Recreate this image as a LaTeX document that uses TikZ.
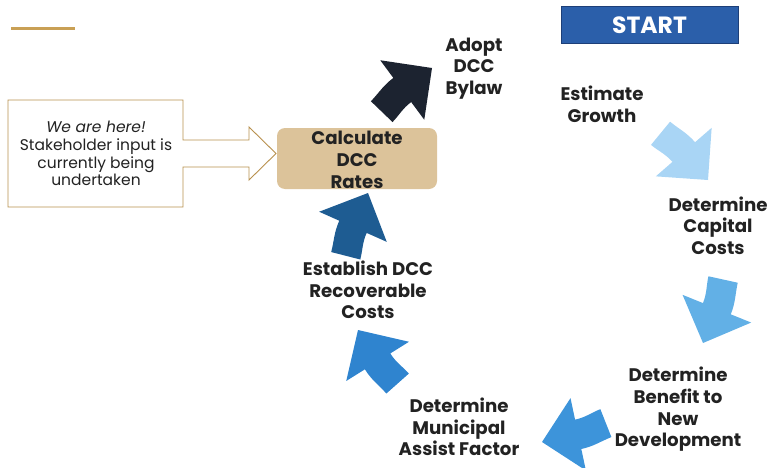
\documentclass[tikz,border=0pt]{standalone}
\usepackage{fontspec}
\setmainfont{Poppins}
\definecolor{txt}{HTML}{222222}
\definecolor{gold}{HTML}{C9A055}
\definecolor{goldline}{HTML}{B8914E}
\definecolor{tan}{HTML}{DCC39A}
\definecolor{startblue}{HTML}{2B5FAA}
\definecolor{startedge}{HTML}{1D3F78}
\definecolor{ablack}{HTML}{1C2330}
\definecolor{alight}{HTML}{A9D5F5}
\definecolor{amid}{HTML}{62B0E6}
\definecolor{ablue}{HTML}{3D94DA}
\definecolor{ablueb}{HTML}{2F84CF}
\definecolor{adark}{HTML}{1E5C92}
\newcommand{\cycarrow}[4]{\fill[#4, shift={(#1,#2)}, rotate=#3] (0,0) -- (-37,37) -- (-37,15) to[out=180,in=10] (-68.9,9.6) -- (-63.9,-20) to[out=10,in=180] (-37,-15) -- (-37,-37) -- cycle;}
\begin{document}
\begin{tikzpicture}[x=1pt,y=1pt,
  lbl/.style={font=\bfseries\fontsize{18.2}{21.7}\selectfont, text=txt, align=center, inner sep=0pt}]
\useasboundingbox (0,0) rectangle (770,467);
% gold rule
\draw[gold, line width=3pt] (11,438) -- (75,438);
% START
\node[fill=startblue, draw=startedge, line width=1pt, minimum width=177pt, minimum height=37pt, inner sep=0pt,
  text=white, font=\bfseries\fontsize{23.5}{26}\selectfont] (start) at (649.5,441.5) {START};
% labels
\node[lbl] (adopt) at (474,398.5) {Adopt\\DCC\\Bylaw};
\node[lbl] (growth) at (602,363) {Estimate\\Growth};
\node[lbl] (capital) at (718,241.5) {Determine\\Capital\\Costs};
\node[lbl] (benefit) at (678,57.5) {Determine\\Benefit to\\New\\Development};
\node[lbl] (assist) at (459,40) {Determine\\Municipal\\Assist Factor};
\node[lbl] (recov) at (368,177) {Establish DCC\\Recoverable\\Costs};
% calculate box
\node[fill=tan, rounded corners=8pt, minimum width=160pt, minimum height=61pt, inner sep=0pt] (calc) at (357,308.5) {};
\node[lbl] (calctxt) at (357,307) {Calculate\\DCC\\Rates};
% we are here arrow box
\draw[goldline, line width=0.9pt, fill=white] (8,367) -- (183,367) -- (183,327) -- (249,327) -- (249,340) -- (276,313.5) -- (249,287) -- (249,300) -- (183,300) -- (183,260) -- (8,260) -- cycle;
\node[font=\fontsize{15.5}{17.7}\selectfont, text=txt, align=center, inner sep=0pt] (here) at (96,313.5)
  {\itshape We are here!\\Stakeholder input is\\currently being\\undertaken};
% cycle arrows
\cycarrow{432}{399}{36.5}{ablack}
\cycarrow{708}{287}{-49}{alight}
\cycarrow{703}{124}{-112}{amid}
\cycarrow{542}{25}{192}{ablue}
\cycarrow{358}{137}{122}{ablueb}
\cycarrow{368}{274}{66}{adark}
\end{tikzpicture}
\end{document}
